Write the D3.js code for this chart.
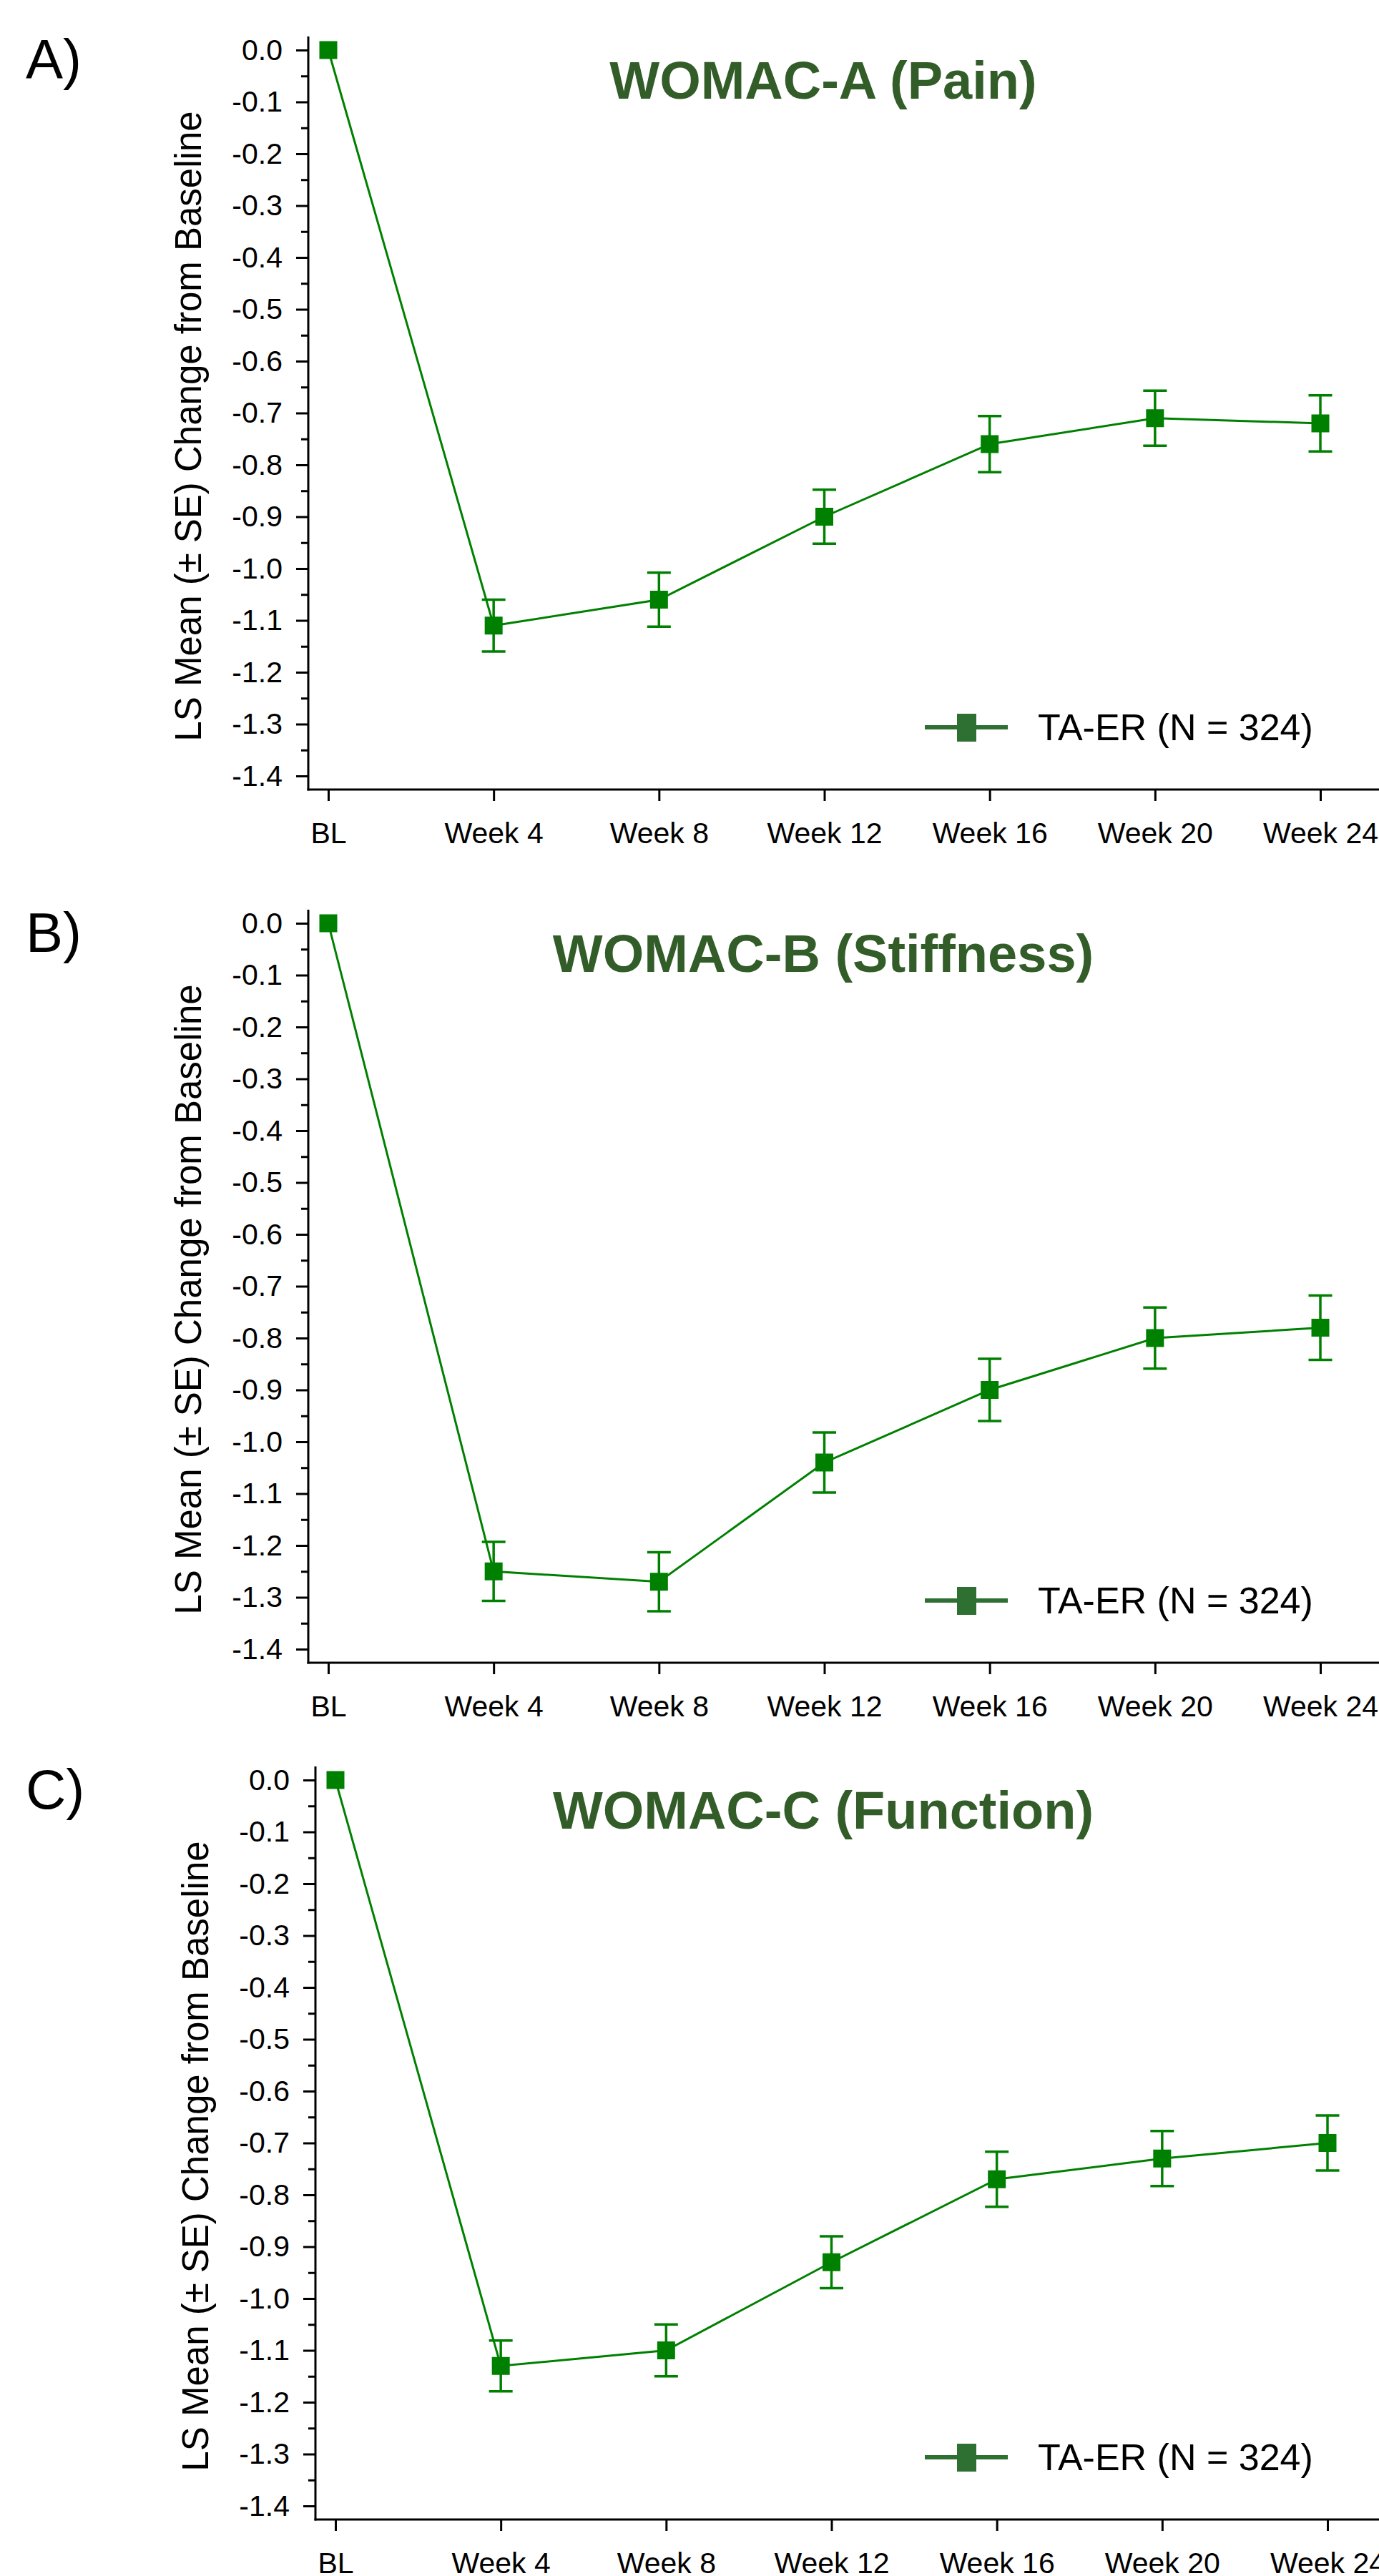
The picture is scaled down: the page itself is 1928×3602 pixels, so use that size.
<!DOCTYPE html>
<html>
<head>
<meta charset="utf-8">
<script src="https://cdn.jsdelivr.net/npm/d3@7/dist/d3.min.js"></script>
<style>
  body { margin: 0; background: #fff; }
  svg { display: block; }
</style>
</head>
<body>
<script>
// visits on the x axis
var categories = ["BL", "Week 4", "Week 8", "Week 12", "Week 16", "Week 20", "Week 24"];

// WOMAC-A (Pain)
var painMean = [0, -1.11, -1.06, -0.90, -0.76, -0.71, -0.72];
var painSE   = [0, 0.050, 0.052, 0.052, 0.054, 0.053, 0.054];

// WOMAC-B (Stiffness)
var stiffMean = [0, -1.25, -1.27, -1.04, -0.90, -0.80, -0.78];
var stiffSE   = [0, 0.057, 0.057, 0.058, 0.060, 0.059, 0.062];

// WOMAC-C (Function)
var funcMean = [0, -1.13, -1.10, -0.93, -0.77, -0.73, -0.70];
var funcSE   = [0, 0.049, 0.050, 0.050, 0.053, 0.053, 0.053];

var yMajor = [0, -0.1, -0.2, -0.3, -0.4, -0.5, -0.6, -0.7, -0.8, -0.9, -1.0, -1.1, -1.2, -1.3, -1.4];
var yMinor = [-0.05, -0.15, -0.25, -0.35, -0.45, -0.55, -0.65, -0.75, -0.85, -0.95, -1.05, -1.15, -1.25, -1.35];

var seriesName = "TA-ER (N = 324)";
var yTitle = "LS Mean (\u00B1 SE) Change from Baseline";

var panels = [
    {letter: "A)", title: "WOMAC-A (Pain)",      mean: painMean,  se: painSE,  dx: 0,  dy: 0},
    {letter: "B)", title: "WOMAC-B (Stiffness)", mean: stiffMean, se: stiffSE, dx: 0,  dy: 1221},
    {letter: "C)", title: "WOMAC-C (Function)",  mean: funcMean,  se: funcSE,  dx: 10, dy: 2419}
];

var W = 1928, H = 3602;
var FONT = "'Liberation Sans', Arial, Helvetica, sans-serif";
var lineGreen = "#008000";
var legendGreen = "#2e6f32";
var titleGreen = "#325c28";

var svg = d3.select("body").append("svg")
    .attr("width", W)
    .attr("height", H)
    .style("font-family", FONT);

svg.append("rect").attr("width", W).attr("height", H).attr("fill", "#fff");

var axisX = 431, axisTop = 51, axisBottom = 1104;

var drawPanel = function(p) {

    var x = d3.scalePoint().domain(categories).range([459, 1846]);
    var y = d3.scaleLinear().domain([0, -1.4]).range([70, 1085]);

    var g = svg.append("g")
        .attr("transform", "translate(" + p.dx + "," + p.dy + ")");

    // y axis: major + minor ticks
    var gy = g.append("g")
        .attr("transform", "translate(" + axisX + ",0)")
        .call(d3.axisLeft(y)
            .tickValues(yMajor)
            .tickSize(17)
            .tickPadding(19)
            .tickFormat(function(d) { return d.toFixed(1); }));
    gy.select(".domain").remove();
    gy.attr("font-size", 41).attr("font-family", FONT);
    gy.selectAll("line").attr("stroke", "#000").attr("stroke-width", 3);
    gy.selectAll("text").attr("fill", "#000");

    var gyMinor = g.append("g")
        .attr("transform", "translate(" + axisX + ",0)")
        .call(d3.axisLeft(y).tickValues(yMinor).tickSize(10).tickFormat(""));
    gyMinor.select(".domain").remove();
    gyMinor.selectAll("line").attr("stroke", "#000").attr("stroke-width", 3);

    // x axis
    var gx = g.append("g")
        .attr("transform", "translate(0," + axisBottom + ")")
        .call(d3.axisBottom(x).tickSize(16).tickPadding(30));
    gx.select(".domain").remove();
    gx.attr("font-size", 41).attr("font-family", FONT);
    gx.selectAll("line").attr("stroke", "#000").attr("stroke-width", 3);
    gx.selectAll("text").attr("fill", "#000");

    // axis lines
    g.append("line")
        .attr("x1", axisX).attr("x2", axisX)
        .attr("y1", axisTop).attr("y2", axisBottom + 1.5)
        .attr("stroke", "#000").attr("stroke-width", 3);
    g.append("line")
        .attr("x1", axisX - 1.5).attr("x2", W - p.dx)
        .attr("y1", axisBottom).attr("y2", axisBottom)
        .attr("stroke", "#000").attr("stroke-width", 3);

    // y title
    g.append("text")
        .attr("transform", "translate(281,596) rotate(-90)")
        .attr("text-anchor", "middle")
        .attr("font-size", 51)
        .attr("fill", "#000")
        .text(yTitle);

    // series line
    g.append("path")
        .datum(p.mean)
        .attr("fill", "none")
        .attr("stroke", lineGreen)
        .attr("stroke-width", 3)
        .attr("d", d3.line()
            .x(function(d, i) { return x(categories[i]); })
            .y(function(d) { return y(d); }));

    // error bars
    var eb = g.selectAll(".err")
        .data(p.mean.map(function(m, i) { return {cat: categories[i], m: m, se: p.se[i]}; })
            .filter(function(d) { return d.se > 0; }))
        .enter().append("g")
        .attr("class", "err")
        .attr("stroke", lineGreen)
        .attr("stroke-width", 3.5);

    eb.append("line")
        .attr("x1", function(d) { return x(d.cat); })
        .attr("x2", function(d) { return x(d.cat); })
        .attr("y1", function(d) { return y(d.m + d.se); })
        .attr("y2", function(d) { return y(d.m - d.se); });
    [1, -1].forEach(function(s) {
        eb.append("line")
            .attr("x1", function(d) { return x(d.cat) - 16.5; })
            .attr("x2", function(d) { return x(d.cat) + 16.5; })
            .attr("y1", function(d) { return y(d.m + s * d.se); })
            .attr("y2", function(d) { return y(d.m + s * d.se); });
    });

    // markers
    g.selectAll(".pt")
        .data(p.mean)
        .enter().append("rect")
        .attr("class", "pt")
        .attr("x", function(d, i) { return x(categories[i]) - 12.5; })
        .attr("y", function(d) { return y(d) - 12.5; })
        .attr("width", 25)
        .attr("height", 25)
        .attr("fill", lineGreen);

    // panel letter + title
    g.append("text")
        .attr("x", 36 - p.dx).attr("y", 110)
        .attr("font-size", 78)
        .attr("fill", "#000")
        .text(p.letter);

    g.append("text")
        .attr("x", 1151 - p.dx).attr("y", 138)
        .attr("text-anchor", "middle")
        .attr("font-size", 74)
        .attr("font-weight", "bold")
        .attr("fill", titleGreen)
        .text(p.title);

    // legend
    var lg = g.append("g").attr("transform", "translate(" + (-p.dx) + ",0)");
    lg.append("line")
        .attr("x1", 1293).attr("x2", 1409)
        .attr("y1", 1017).attr("y2", 1017)
        .attr("stroke", legendGreen).attr("stroke-width", 6);
    lg.append("rect")
        .attr("x", 1338).attr("y", 998)
        .attr("width", 27).attr("height", 39)
        .attr("fill", legendGreen);
    lg.append("text")
        .attr("x", 1451).attr("y", 1035)
        .attr("font-size", 52)
        .attr("fill", "#000")
        .text(seriesName);
};

panels.forEach(drawPanel);
</script>
</body>
</html>
